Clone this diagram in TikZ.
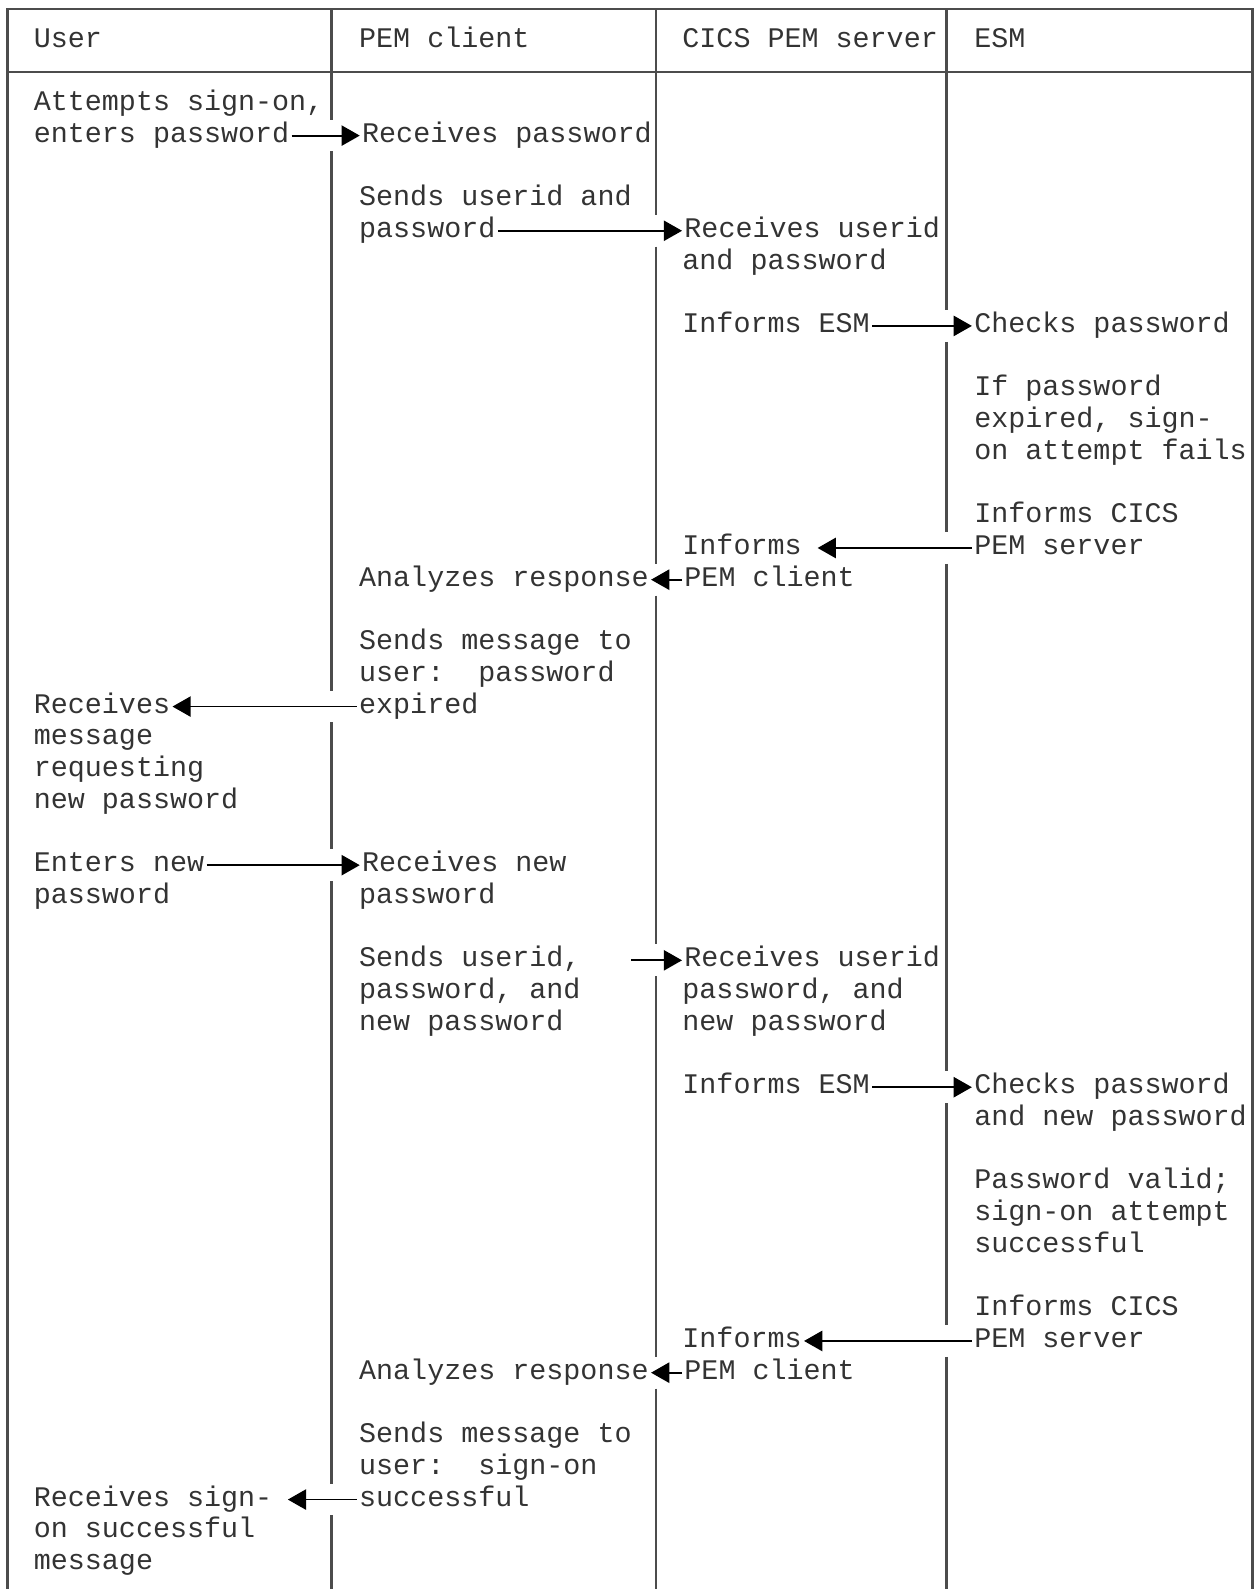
\documentclass[tikz,border=0pt]{standalone}
\usepackage{fontspec}
\newfontfamily\lanefont{Liberation Mono}
\usetikzlibrary{arrows.meta}

\tikzset{
    lane/.style={draw=black!70, line width=1.1pt},
    msg/.style={-{Triangle[length=9pt,width=10pt]}, line width=0.9pt, draw=black},
    txt/.style={anchor=west, font=\lanefont\fontsize{14}{15.65}\selectfont, text=black!80,
        inner xsep=1pt, inner ysep=0pt, text height=6.5pt, text depth=0pt}
}

\begin{document}
\begin{tikzpicture}[x=0.5pt, y=-15.65pt]
    \useasboundingbox (0,-1.275) rectangle (1242,48.82);
    % frame and header row
    \draw[lane] (7.5,48.82) -- (7.5,-1) -- (1236,-1) -- (1236,48.82);
    \draw[lane] (7.5,1) -- (1236,1);
    % lane separators, broken where a message crosses
    \draw[lane]
        (327,-1) -- (327,2.5) (327,3.5) -- (327,20.5) (327,21.5) -- (327,25.5)
        (327,26.5) -- (327,45.5) (327,46.5) -- (327,48.82)
        (647,-1) -- (647,5.5) (647,6.5) -- (647,16.5) (647,17.5) -- (647,28.5)
        (647,29.5) -- (647,41.5) (647,42.5) -- (647,48.82)
        (934,-1) -- (934,8.5) (934,9.5) -- (934,15.5) (934,16.5) -- (934,32.5)
        (934,33.5) -- (934,40.5) (934,41.5) -- (934,48.82);

    % headers
    \node[txt] (hduser) at (31,0) {User};
    \node[txt] (hdclient) at (352,0) {PEM client};
    \node[txt] (hdserver) at (671,0) {CICS PEM server};
    \node[txt] (hdesm) at (959,0) {ESM};

    % first sign-on attempt
    \node[txt] (attempt1) at (31,2) {Attempts sign-on,};
    \node[txt] (attempt2) at (31,3) {enters password};
    \node[txt] (recvpw) at (355,3) {Receives password};
    \node[txt] (sendid1) at (352,5) {Sends userid and};
    \node[txt] (sendid2) at (352,6) {password};
    \node[txt] (recvid1) at (673,6) {Receives userid};
    \node[txt] (recvid2) at (671,7) {and password};
    \node[txt] (inform1) at (671,9) {Informs ESM};
    \node[txt] (check1) at (959,9) {Checks password};
    \node[txt] (expire1) at (959,11) {If password};
    \node[txt] (expire2) at (959,12) {expired, sign-};
    \node[txt] (expire3) at (959,13) {on attempt fails};
    \node[txt] (tellsrv1) at (959,15) {Informs CICS};
    \node[txt] (tellsrv2) at (959,16) {PEM server};
    \node[txt] (tellcli1) at (671,16) {Informs};
    \node[txt] (tellcli2) at (673,17) {PEM client};
    \node[txt] (analyze1) at (352,17) {Analyzes response};
    \node[txt] (sendmsg1) at (352,19) {Sends message to};
    \node[txt] (sendmsg2) at (352,20) {user:~~password};
    \node[txt] (sendmsg3) at (352,21) {expired};
    \node[txt] (recvmsg1) at (31,21) {Receives};
    \node[txt] (recvmsg2) at (31,22) {message};
    \node[txt] (recvmsg3) at (31,23) {requesting};
    \node[txt] (recvmsg4) at (31,24) {new password};

    % second attempt with new password
    \node[txt] (enternew1) at (31,26) {Enters new};
    \node[txt] (enternew2) at (31,27) {password};
    \node[txt] (recvnew1) at (355,26) {Receives new};
    \node[txt] (recvnew2) at (352,27) {password};
    \node[txt] (sendnew1) at (352,29) {Sends userid,};
    \node[txt] (sendnew2) at (352,30) {password, and};
    \node[txt] (sendnew3) at (352,31) {new password};
    \node[txt] (recvall1) at (673,29) {Receives userid};
    \node[txt] (recvall2) at (671,30) {password, and};
    \node[txt] (recvall3) at (671,31) {new password};
    \node[txt] (inform2) at (671,33) {Informs ESM};
    \node[txt] (check2a) at (959,33) {Checks password};
    \node[txt] (check2b) at (959,34) {and new password};
    \node[txt] (valid1) at (959,36) {Password valid;};
    \node[txt] (valid2) at (959,37) {sign-on attempt};
    \node[txt] (valid3) at (959,38) {successful};
    \node[txt] (tellsrv3) at (959,40) {Informs CICS};
    \node[txt] (tellsrv4) at (959,41) {PEM server};
    \node[txt] (tellcli3) at (671,41) {Informs};
    \node[txt] (tellcli4) at (673,42) {PEM client};
    \node[txt] (analyze2) at (352,42) {Analyzes response};
    \node[txt] (sendok1) at (352,44) {Sends message to};
    \node[txt] (sendok2) at (352,45) {user:~~sign-on};
    \node[txt] (sendok3) at (352,46) {successful};
    \node[txt] (recvok1) at (31,46) {Receives sign-};
    \node[txt] (recvok2) at (31,47) {on successful};
    \node[txt] (recvok3) at (31,48) {message};

    % messages
    \draw
        (attempt2.east) edge[msg] (recvpw.west)
        (sendid2.east) edge[msg] (recvid1.west)
        (inform1.east) edge[msg] (check1.west)
        (tellsrv2.west) edge[msg] ([xshift=6.7pt]tellcli1.east)
        (tellcli2.west) edge[msg] (analyze1.east)
        (sendmsg3.west) edge[msg] (recvmsg1.east)
        (enternew1.east) edge[msg] (recvnew1.west)
        ([xshift=23.8pt]sendnew1.east) edge[msg] (recvall1.west)
        (inform2.east) edge[msg] (check2a.west)
        (tellsrv4.west) edge[msg] (tellcli3.east)
        (tellcli4.west) edge[msg] (analyze2.east)
        (sendok3.west) edge[msg] ([xshift=6.5pt]recvok1.east);
\end{tikzpicture}
\end{document}
